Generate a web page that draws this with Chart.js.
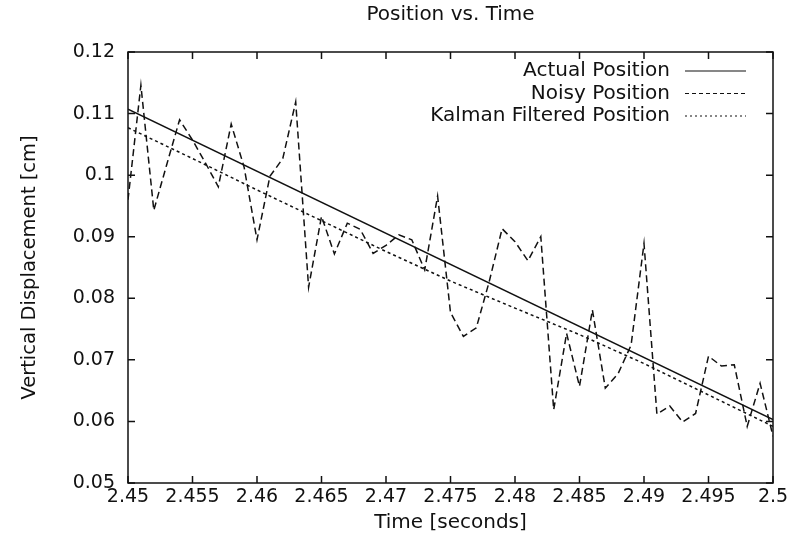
<!DOCTYPE html>
<html>
<head>
<meta charset="utf-8">
<script src="https://cdn.jsdelivr.net/npm/chart.js@4.4.1/dist/chart.umd.min.js"></script>
<style>
  html, body { margin: 0; padding: 0; background: #fff; }
  #wrap { width: 795px; height: 554px; position: relative; }
</style>
</head>
<body>
<div id="wrap"><canvas id="posChart"></canvas></div>
<script>
// ---- data ----
const chartTitle = 'Position vs. Time';
const xTitle = 'Time [seconds]';
const yTitle = 'Vertical Displacement [cm]';

const xTicks = [2.45, 2.455, 2.46, 2.465, 2.47, 2.475, 2.48, 2.485, 2.49, 2.495, 2.5];
const xTickLabels = ['2.45', '2.455', '2.46', '2.465', '2.47', '2.475', '2.48', '2.485', '2.49', '2.495', '2.5'];
const yTicks = [0.05, 0.06, 0.07, 0.08, 0.09, 0.1, 0.11, 0.12];
const yTickLabels = ['0.05', '0.06', '0.07', '0.08', '0.09', '0.1', '0.11', '0.12'];

const actualTime = [2.45, 2.5];
const actualPos = [0.1107, 0.0603];

const noisyTime = [
    2.450, 2.451, 2.452, 2.453, 2.454, 2.455, 2.456, 2.457, 2.458, 2.459,
    2.460, 2.461, 2.462, 2.463, 2.464, 2.465, 2.466, 2.467, 2.468, 2.469,
    2.470, 2.471, 2.472, 2.473, 2.474, 2.475, 2.476, 2.477, 2.478, 2.479,
    2.480, 2.481, 2.482, 2.483, 2.484, 2.485, 2.486, 2.487, 2.488, 2.489,
    2.490, 2.491, 2.492, 2.493, 2.494, 2.495, 2.496, 2.497, 2.498, 2.499,
    2.500,
];
const noisyPos = [
    0.0960, 0.1146, 0.0943, 0.1017, 0.1090, 0.1057, 0.1020, 0.0981, 0.1083, 0.1013,
    0.0895, 0.0998, 0.1027, 0.1119, 0.0818, 0.0933, 0.0872, 0.0922, 0.0912, 0.0873,
    0.0886, 0.0903, 0.0895, 0.0846, 0.0966, 0.0777, 0.0738, 0.0752, 0.0827, 0.0913,
    0.0892, 0.0861, 0.0900, 0.0619, 0.0743, 0.0657, 0.0781, 0.0654, 0.0678, 0.0724,
    0.0889, 0.0612, 0.0625, 0.0599, 0.0613, 0.0706, 0.0690, 0.0692, 0.0592, 0.0662,
    0.0576,
];

const kalmanTime = [2.45, 2.455, 2.46, 2.465, 2.47, 2.475, 2.48, 2.485, 2.49, 2.495, 2.5];
const kalmanPos = [0.1077, 0.1027, 0.0976, 0.0926, 0.0876, 0.0828, 0.0784, 0.0741, 0.0694, 0.0643, 0.0592];

const seriesNames = ['Actual Position', 'Noisy Position', 'Kalman Filtered Position'];

// ---- helpers ----
const toXY = (xs, ys) => xs.map((x, i) => ({ x, y: ys[i] }));
const FONT = 'DejaVu Sans';
const INK = '#111';

const dashes = {
    plot: [[], [7, 4], [3, 3]],
    legend: [[], [4, 3], [2, 3]],
};

// gnuplot style frame with inward ticks on all four sides, title and key
const gnuplotFrame = {
    id: 'gnuplotFrame',
    afterDraw(chart) {
        const { ctx, chartArea: a, scales } = chart;
        ctx.save();
        ctx.strokeStyle = INK;
        ctx.lineWidth = 1.5;
        ctx.setLineDash([]);
        ctx.strokeRect(a.left, a.top, a.right - a.left, a.bottom - a.top);

        const tl = 7;
        ctx.beginPath();
        xTicks.forEach((v) => {
            const px = scales.x.getPixelForValue(v);
            ctx.moveTo(px, a.bottom);
            ctx.lineTo(px, a.bottom - tl);
            ctx.moveTo(px, a.top);
            ctx.lineTo(px, a.top + tl);
        });
        yTicks.forEach((v) => {
            const py = scales.y.getPixelForValue(v);
            ctx.moveTo(a.left, py);
            ctx.lineTo(a.left + tl, py);
            ctx.moveTo(a.right, py);
            ctx.lineTo(a.right - tl, py);
        });
        ctx.stroke();

        // title
        ctx.fillStyle = INK;
        ctx.font = `20px "${FONT}"`;
        ctx.textAlign = 'center';
        ctx.textBaseline = 'middle';
        ctx.fillText(chartTitle, (a.left + a.right) / 2, 15);

        // key
        ctx.font = `20px "${FONT}"`;
        ctx.textAlign = 'right';
        const textRight = a.right - 103;
        const lineL = a.right - 88;
        const lineR = a.right - 27;
        seriesNames.forEach((name, i) => {
            const y = a.top + 19 + i * 22.5;
            ctx.fillText(name, textRight, y);
            ctx.setLineDash(dashes.legend[i]);
            ctx.lineWidth = 1.2;
            ctx.beginPath();
            ctx.moveTo(lineL, y);
            ctx.lineTo(lineR, y);
            ctx.stroke();
        });
        ctx.restore();
    },
};

const ctx = document.getElementById('posChart').getContext('2d');
const lineSets = [
    toXY(actualTime, actualPos),
    toXY(noisyTime, noisyPos),
    toXY(kalmanTime, kalmanPos),
];

const config = {
    type: 'line',
    data: {
        datasets: lineSets.map((d, i) => ({
            label: seriesNames[i],
            data: d,
            borderColor: INK,
            borderWidth: 1.5,
            borderDash: dashes.plot[i],
            pointRadius: 0,
            tension: 0,
            fill: false,
        })),
    },
    options: {
        responsive: true,
        maintainAspectRatio: false,
        animation: false,
        events: [],
        layout: {
            padding: { top: 52, right: 22, left: 0, bottom: 0 },
        },
        plugins: {
            legend: { display: false },
            title: { display: false },
            tooltip: { enabled: false },
        },
        scales: {
            x: {
                type: 'linear',
                min: 2.45,
                max: 2.5,
                grid: { display: false, drawTicks: false },
                border: { display: false },
                afterBuildTicks(scale) {
                    scale.ticks = xTicks.map((value) => ({ value }));
                },
                afterFit(scale) {
                    scale.height = 71;
                },
                ticks: {
                    color: INK,
                    padding: 3,
                    maxRotation: 0,
                    autoSkip: false,
                    font: { family: FONT, size: 19 },
                    callback(value, index) {
                        return xTickLabels[index];
                    },
                },
                title: {
                    display: true,
                    text: xTitle,
                    color: INK,
                    font: { family: FONT, size: 20 },
                    padding: { top: 0, bottom: 19 },
                },
            },
            y: {
                type: 'linear',
                min: 0.05,
                max: 0.12,
                grid: { display: false, drawTicks: false },
                border: { display: false },
                afterBuildTicks(scale) {
                    scale.ticks = yTicks.map((value) => ({ value }));
                },
                afterFit(scale) {
                    scale.width = 128;
                },
                ticks: {
                    color: INK,
                    padding: 13,
                    autoSkip: false,
                    font: { family: FONT, size: 19 },
                    callback(value, index) {
                        return yTickLabels[index];
                    },
                },
                title: {
                    display: true,
                    text: yTitle,
                    color: INK,
                    font: { family: FONT, size: 19.5 },
                    padding: { top: 18, bottom: 0 },
                },
            },
        },
    },
    plugins: [gnuplotFrame],
};

const chart = new Chart(ctx, config);
</script>
</body>
</html>
